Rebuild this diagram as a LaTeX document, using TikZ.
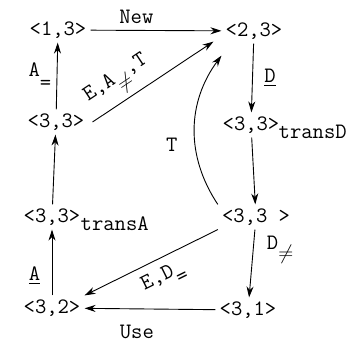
\documentclass[tikz,border=0pt]{standalone}
\usepackage{amsmath}
\usepackage{xcolor}
\usepackage{tikz}
\usetikzlibrary{arrows.meta,positioning}

\begin{document}
\begin{tikzpicture}[
x=1pt,y=-1pt,
font=\ttfamily\fontsize{22}{26}\selectfont,
state/.style={inner sep=4pt},
sub/.style={anchor=west,inner sep=0pt},
arrow/.style={-{Stealth[length=11pt,width=7pt]},line width=0.9pt},
lbl/.style={font=\ttfamily\fontsize{22}{25}\selectfont}
]
\useasboundingbox (0,0) rectangle (350,349);
\node[state] (n13) at (58,30) {<1,3>};
\node[state] (n23) at (254,31) {<2,3>};
\node[state] (a33) at (56,122) {<3,3>};
\node[state] (d33) at (251,125) {<3,3>};
\node[sub] (dsub) at ([xshift=-5pt,yshift=-7pt]d33.east) {transD};
\node[state] (t33) at (52,217) {<3,3>};
\node[sub] (tsub) at ([xshift=-4pt,yshift=-7pt]t33.east) {transA};
\node[state] (r33) at (256,217) {<3,3 >};
\node[state] (n32) at (52,308) {<3,2>};
\node[state] (n31) at (248,310) {<3,1>};

\draw[arrow] (n13) -- node[pos=.35,above,lbl,yshift=3pt]{New} (n23);
\draw[arrow] (a33) -- node[left,lbl,xshift=-2pt]{A\raisebox{-1.3ex}{=}} (n13);
\draw[arrow] ([xshift=4pt]a33.east) -- node[pos=.3,sloped,above,lbl,yshift=1pt]{E,A\raisebox{-1.1ex}{$\neq$},T} ([xshift=-8pt,yshift=2pt]n23.south west);
\draw[arrow] (t33) -- (a33);
\draw[arrow] (n32) -- node[pos=.3,left,lbl,xshift=-8pt]{\underline{A}} (t33);
\draw[arrow] (n23) -- node[right,lbl,xshift=8pt]{\underline{D}} (d33);
\draw[arrow] (d33) -- (r33);
\draw[arrow] (r33.north west) to[bend left=35] node[pos=.4,left,lbl,xshift=-14pt]{T} ([yshift=-12pt]n23.south west);
\draw[arrow] (r33) -- node[pos=.3,right,lbl,xshift=10pt]{D\raisebox{-1.1ex}{$\neq$}} (n31);
\draw[arrow] (r33.south west) -- node[pos=.47,sloped,below,lbl,yshift=-5pt]{E,D\raisebox{-1.1ex}{=}} (n32.north east);
\draw[arrow] (n31) -- node[pos=.6,below,lbl,yshift=-12pt]{Use} (n32);
\end{tikzpicture}
\end{document}
